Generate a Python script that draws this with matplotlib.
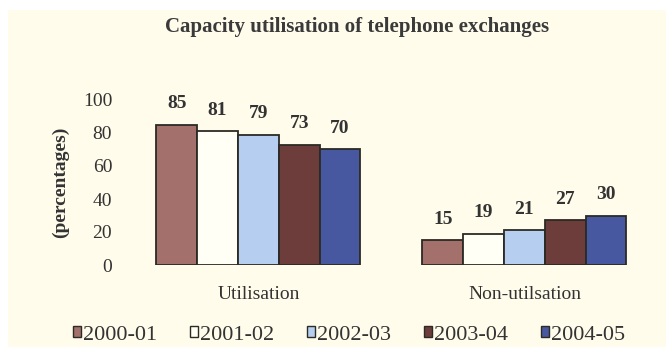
import numpy as np
import matplotlib.pyplot as plt
from matplotlib.patches import Patch, Rectangle

plt.rcParams['font.family'] = ['Liberation Serif', 'DejaVu Serif']

groups = ['Utilisation', 'Non-utilsation']
years = ['2000-01', '2001-02', '2002-03', '2003-04', '2004-05']
utilisation = [85, 81, 79, 73, 70]
non_utilisation = [15, 19, 21, 27, 30]
colors = ['#a4706c', '#fffff6', '#b6cff0', '#6d3d3c', '#4858a0']

values = np.array([utilisation, non_utilisation])
edge = '#2b2a24'
txt = '#333333'

fig = plt.figure(figsize=(6.66, 3.47), dpi=100, facecolor='white')
# cream panel behind everything
fig.patches.append(Rectangle((8 / 666, 0), 1, 337 / 347, transform=fig.transFigure,
                             facecolor='#fffcec', edgecolor='none', zorder=-10))

ax = fig.add_axes([140 / 666, 82 / 347, 510 / 666, 165 / 347])
ax.set_facecolor('none')

x = np.arange(len(groups))
w = 0.1534
for i, yr in enumerate(years):
    pos = x + (i - 2) * w
    bars = ax.bar(pos, values[:, i], width=w, color=colors[i], edgecolor=edge,
                  linewidth=1.3, label=yr)
    for b, v in zip(bars, values[:, i]):
        ax.annotate(str(v), (b.get_x() + b.get_width() / 2, v), xytext=(0, 9),
                    textcoords='offset points', ha='center', va='bottom',
                    fontsize=14, fontweight='bold', color=txt)

ax.set_xlim(-0.445, 1.472)
ax.set_ylim(0, 100)
ax.set_yticks([0, 20, 40, 60, 80, 100])
ax.set_xticks(x)
ax.set_xticklabels(groups)
ax.tick_params(axis='x', length=0, pad=15, labelsize=14, labelcolor=txt)
ax.tick_params(axis='y', length=0, pad=20, labelsize=14, labelcolor=txt)
for s in ax.spines.values():
    s.set_visible(False)

ax.set_ylabel('(percentages)', fontsize=14, fontweight='bold', color=txt)
ax.yaxis.set_label_coords(-0.138, 0.5)

fig.text(357 / 666, 1 - 27 / 347, 'Capacity utilisation of telephone exchanges',
         ha='center', va='center', fontsize=15, fontweight='bold', color='#3a3a3a')

handles = [Patch(facecolor=c, edgecolor=edge, linewidth=1.0) for c in colors]
fig.legend(handles, years, loc='center', bbox_to_anchor=(349 / 666, 12 / 347),
           ncol=5, frameon=False, fontsize=16, handlelength=0.38, handleheight=0.38,
           handletextpad=0.1, columnspacing=1.45, labelcolor=txt)

fig.savefig('out.png', dpi=100, facecolor=fig.get_facecolor())
